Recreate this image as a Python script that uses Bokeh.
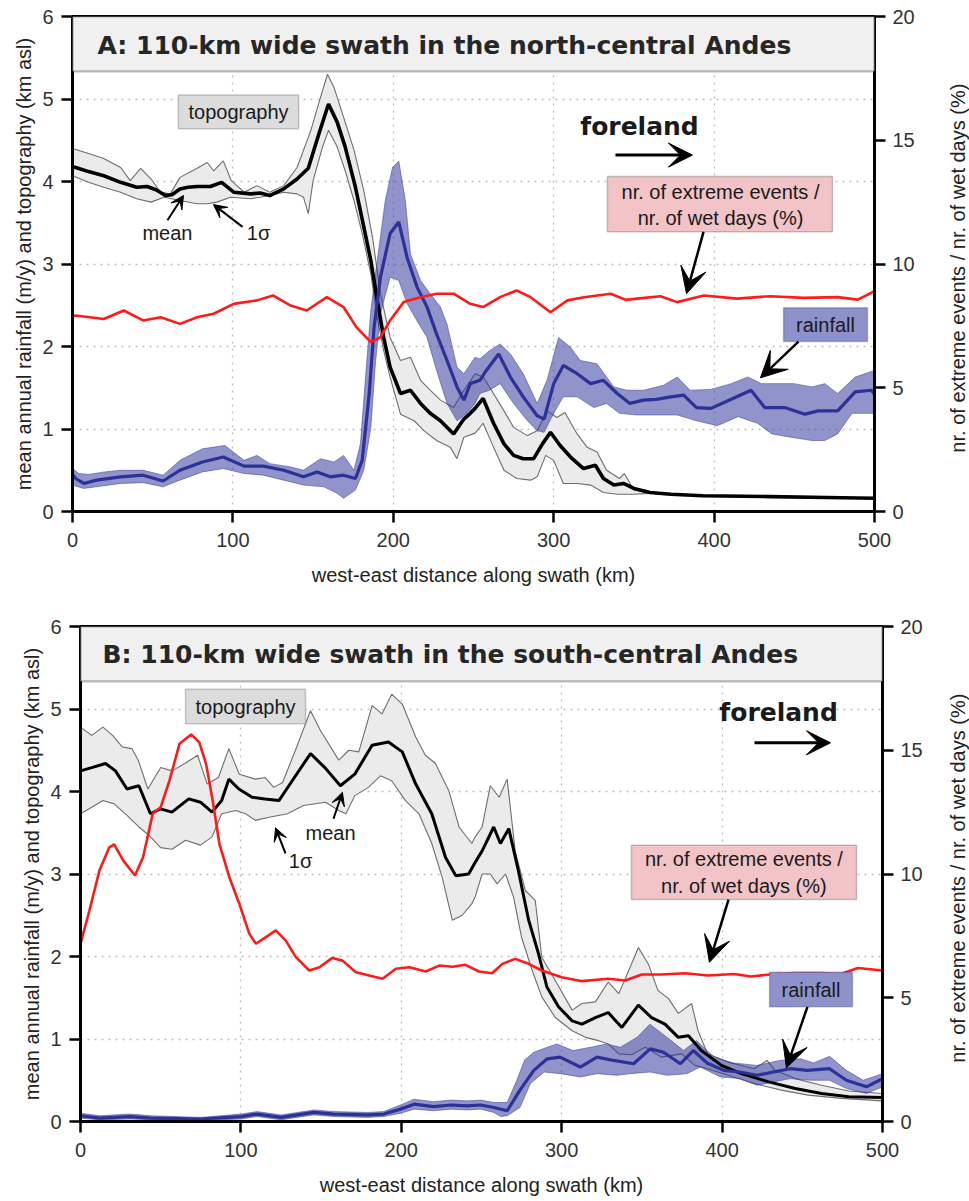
import math
from bokeh.plotting import figure
from bokeh.models import Range1d, LinearAxis, Arrow, VeeHead, Label, FixedTicker, BoxAnnotation
from bokeh.layouts import column, row
from bokeh.embed import file_html
from bokeh.resources import INLINE

# ---------------- Panel A data (north-central Andes) ----------------
A_topo_mean_x = [0, 2, 10, 19.5, 30, 40, 46.5, 52, 58, 62, 67, 72, 77.7, 86, 93, 100.5, 111, 117, 123, 131.7, 140, 147, 153, 159.6, 165, 170, 176.4, 181.6, 186, 190, 194, 198, 204.5, 210.7, 217, 223, 229.4, 237.6, 244, 248, 251, 256, 262.5, 269, 275, 281, 287.5, 293, 298, 304, 310.5, 318.6, 326, 331, 337.5, 343.5, 350, 360, 373, 393, 435, 470, 500]
A_topo_mean_y = [4.18, 4.17, 4.12, 4.07, 3.99, 3.93, 3.94, 3.90, 3.83, 3.84, 3.91, 3.93, 3.94, 3.94, 3.99, 3.87, 3.85, 3.86, 3.83, 3.91, 4.03, 4.16, 4.54, 4.94, 4.72, 4.42, 3.93, 3.45, 3.04, 2.56, 2.11, 1.75, 1.43, 1.47, 1.31, 1.19, 1.10, 0.94, 1.12, 1.19, 1.25, 1.37, 1.07, 0.82, 0.68, 0.64, 0.64, 0.82, 0.96, 0.80, 0.66, 0.52, 0.56, 0.40, 0.32, 0.34, 0.28, 0.23, 0.21, 0.19, 0.18, 0.17, 0.16]
A_topo_up_x = [0, 10, 19.5, 30, 36, 42.5, 49, 55, 61, 67, 77.7, 84, 88, 94, 99, 107, 115, 123, 131.7, 140, 148.6, 154.6, 159, 163, 169, 175.5, 181.6, 187, 192, 198, 204.5, 210.7, 217, 223, 229.4, 237.6, 244, 251, 256, 260, 269, 275, 283.6, 289.7, 296, 302, 307, 314.6, 320.8, 327, 333, 341, 344, 350, 360]
A_topo_up_y = [4.40, 4.34, 4.28, 4.17, 4.01, 4.16, 4.03, 3.87, 3.85, 4.05, 4.16, 4.23, 4.13, 4.25, 4.01, 3.87, 3.95, 3.87, 3.95, 4.17, 4.62, 5.02, 5.30, 5.14, 4.78, 4.38, 3.89, 3.33, 2.64, 2.11, 1.83, 1.87, 1.59, 1.47, 1.35, 1.26, 1.47, 1.67, 1.63, 1.51, 1.22, 1.02, 0.92, 0.98, 1.22, 1.14, 1.20, 0.94, 0.78, 0.72, 0.50, 0.40, 0.46, 0.26, 0.23]
A_topo_lo_x = [0, 10, 19.5, 30, 40, 49, 57, 67, 77.7, 84, 90, 98.5, 111, 123, 131.7, 140, 144, 147, 150, 155.6, 159.6, 165, 170, 175.5, 180.6, 186, 190, 194, 198, 204.5, 213, 219, 227, 235.5, 239.7, 244, 251, 256, 262.5, 269, 277, 285.6, 289.7, 295, 300, 306, 314.6, 323, 331, 339.6, 350, 360]
A_topo_lo_y = [4.07, 3.99, 3.93, 3.87, 3.79, 3.75, 3.81, 3.77, 3.73, 3.73, 3.75, 3.81, 3.79, 3.83, 3.87, 3.85, 3.81, 3.61, 4.01, 4.40, 4.62, 4.42, 4.13, 3.77, 3.37, 2.88, 2.35, 1.95, 1.63, 1.18, 1.10, 0.98, 0.86, 0.78, 0.64, 0.90, 0.95, 1.07, 0.78, 0.50, 0.40, 0.38, 0.42, 0.68, 0.62, 0.34, 0.34, 0.32, 0.23, 0.21, 0.21, 0.22]
A_rain_mean_x = [0, 2, 7, 15, 30, 44, 56.5, 67, 81, 94, 107, 119, 131.7, 144, 152.5, 160.7, 169, 176.4, 180.6, 185, 188, 192, 198, 203.4, 208.6, 214.8, 221, 227, 233.5, 239.7, 244, 248, 254, 258, 265.7, 273, 281, 289.7, 294, 300, 306, 314.6, 323, 331, 339.6, 347.5, 356, 364, 373, 381, 389, 398, 410.7, 423, 431.6, 444, 456.6, 465, 477, 488, 498, 500]
A_rain_mean_y = [0.45, 0.40, 0.34, 0.38, 0.42, 0.44, 0.37, 0.50, 0.60, 0.66, 0.55, 0.55, 0.50, 0.42, 0.48, 0.42, 0.44, 0.40, 0.62, 1.43, 2.23, 2.84, 3.37, 3.51, 3.08, 2.72, 2.48, 2.15, 1.83, 1.51, 1.35, 1.55, 1.59, 1.71, 1.91, 1.63, 1.39, 1.16, 1.12, 1.55, 1.77, 1.67, 1.55, 1.59, 1.43, 1.31, 1.35, 1.36, 1.39, 1.41, 1.26, 1.25, 1.36, 1.47, 1.26, 1.26, 1.18, 1.22, 1.22, 1.45, 1.47, 1.42]
A_rain_up_x = [0, 4, 10, 20, 30, 44, 56.5, 67, 81, 95, 107, 115, 123, 136, 144, 154.6, 163, 169, 175.5, 179.5, 182.7, 186, 190, 195, 199.5, 203.4, 207.5, 210.7, 217, 223, 229.4, 233.5, 239.7, 244, 251, 254, 260, 266.6, 273, 281, 289.7, 296, 303, 310.5, 316.6, 327, 337.5, 345.6, 356, 368.5, 377, 385, 398, 410.7, 421, 429.6, 440, 450, 461, 469, 477, 488, 500]
A_rain_up_y = [0.52, 0.46, 0.45, 0.48, 0.50, 0.50, 0.44, 0.62, 0.76, 0.80, 0.62, 0.68, 0.58, 0.54, 0.50, 0.64, 0.60, 0.68, 0.50, 0.82, 1.63, 2.44, 3.04, 3.77, 4.17, 4.25, 3.77, 3.12, 2.80, 2.64, 2.48, 2.27, 1.75, 1.67, 1.87, 1.85, 1.95, 2.03, 1.91, 1.67, 1.31, 1.60, 2.11, 1.99, 1.83, 1.79, 1.51, 1.47, 1.47, 1.53, 1.63, 1.47, 1.48, 1.55, 1.63, 1.55, 1.55, 1.55, 1.51, 1.55, 1.43, 1.63, 1.71]
A_rain_lo_x = [0, 7, 15, 30, 44, 56.5, 67, 81, 94, 107, 119, 131.7, 144, 156.7, 165, 169, 176.4, 181.6, 186, 189, 192, 198, 203.4, 208.6, 214.8, 221, 227, 233.5, 239.7, 246, 251, 254, 260, 266.6, 275, 283.6, 289.7, 294, 300, 306, 314.6, 325, 333, 341, 352, 364, 377, 389, 402, 415, 427, 436, 448, 461, 469, 477, 486, 500]
A_rain_lo_y = [0.32, 0.28, 0.30, 0.34, 0.35, 0.30, 0.38, 0.48, 0.52, 0.46, 0.44, 0.38, 0.32, 0.30, 0.22, 0.16, 0.26, 0.50, 1.02, 1.83, 2.40, 2.84, 2.80, 2.52, 2.31, 2.11, 1.71, 1.31, 1.10, 1.19, 1.31, 1.43, 1.47, 1.55, 1.31, 1.10, 0.98, 0.96, 1.19, 1.39, 1.39, 1.26, 1.31, 1.19, 1.17, 1.17, 1.17, 1.10, 1.04, 1.15, 1.07, 0.94, 0.90, 0.86, 0.86, 0.94, 1.19, 1.19]
A_ratio_x = [0, 2, 19.5, 32, 44, 55, 67, 77.7, 88, 100.5, 115, 125, 136, 146, 158.6, 169, 177, 186, 192, 198, 206.5, 217, 227, 237.6, 248, 256, 266.6, 277, 285.6, 298, 308.6, 319, 335.6, 345, 352, 366.6, 377, 393.6, 414.4, 435, 456, 477, 489.6, 500]
A_ratio_y = [7.90, 7.92, 7.78, 8.12, 7.72, 7.85, 7.58, 7.85, 7.99, 8.39, 8.53, 8.73, 8.32, 8.12, 8.66, 8.26, 7.45, 6.84, 7.04, 7.72, 8.46, 8.66, 8.80, 8.80, 8.39, 8.26, 8.66, 8.93, 8.66, 8.05, 8.53, 8.66, 8.80, 8.55, 8.60, 8.70, 8.46, 8.73, 8.60, 8.70, 8.63, 8.66, 8.56, 8.90]

# ---------------- Panel B data (south-central Andes) ----------------
B_topo_mean_x = [0, 7, 15.6, 21.8, 29, 36.4, 43.6, 49.9, 57, 67.5, 74.8, 82, 88, 92.5, 98.7, 107, 115, 123.7, 132, 143.4, 152.8, 162, 171, 181.8, 192, 200.6, 209, 219, 227.6, 234, 242, 246, 250.4, 257.6, 261.8, 267, 273, 279.4, 285.6, 290.8, 298, 306.5, 312.6, 321, 329, 337.5, 347.8, 356, 364.4, 372.7, 379, 387, 399.6, 412, 429, 445.6, 462, 479, 500]
B_topo_mean_y = [4.25, 4.29, 4.34, 4.25, 4.03, 4.07, 3.73, 3.79, 3.75, 3.91, 3.87, 3.75, 3.89, 4.15, 4.03, 3.93, 3.91, 3.89, 4.13, 4.46, 4.28, 4.07, 4.21, 4.56, 4.60, 4.48, 4.09, 3.73, 3.20, 2.98, 3.00, 3.14, 3.28, 3.57, 3.37, 3.55, 3.04, 2.44, 2.03, 1.63, 1.39, 1.22, 1.18, 1.26, 1.32, 1.14, 1.41, 1.26, 1.18, 1.02, 1.04, 0.86, 0.68, 0.58, 0.48, 0.40, 0.34, 0.30, 0.29]
B_topo_up_x = [0, 7, 14, 20, 26, 32, 36, 42, 50, 57, 65, 73, 79, 86, 92.5, 99, 109, 115, 120.5, 126, 134, 143.4, 149.6, 161, 167.3, 173.5, 181.8, 188, 194, 200.6, 209, 215, 221.3, 229.6, 236, 244, 246, 250.4, 255.5, 261, 266, 271, 277.3, 283.5, 287.6, 296, 306.5, 312.6, 321, 329, 335.6, 341.8, 347.8, 354, 360, 366.6, 372.7, 381, 385, 391, 403.7, 420, 428, 433, 445.6, 462, 479, 500]
B_topo_up_y = [4.78, 4.68, 4.78, 4.68, 4.54, 4.52, 4.38, 4.03, 4.29, 4.25, 4.34, 4.44, 4.09, 4.17, 4.52, 4.21, 4.15, 4.17, 4.05, 4.11, 4.50, 4.98, 4.74, 4.38, 4.50, 4.48, 5.04, 4.94, 5.18, 5.06, 4.66, 4.44, 4.34, 4.01, 3.57, 3.37, 3.45, 3.57, 4.07, 3.93, 4.15, 3.28, 2.80, 2.68, 1.99, 1.71, 1.35, 1.43, 1.45, 1.69, 1.55, 1.83, 2.11, 1.91, 1.59, 1.49, 1.31, 1.43, 1.10, 0.82, 0.72, 0.64, 0.74, 0.62, 0.52, 0.44, 0.37, 0.34]
B_topo_lo_x = [0, 7, 14, 21, 29, 36.4, 42.6, 49.9, 57, 65.5, 74.8, 82, 88, 96.8, 103, 109, 118.4, 129, 139, 152.8, 161, 165.5, 171, 179.5, 187, 194, 202.6, 211, 219, 225.5, 231.8, 238, 244, 246, 250.4, 255.5, 259.7, 265, 270, 275, 281.6, 287.6, 296, 306.5, 314.8, 323, 329, 335.6, 343.7, 352, 362, 374.8, 383, 391, 403.7, 420, 437, 453.6, 474.4, 500]
B_topo_lo_y = [3.73, 3.81, 3.89, 3.85, 3.71, 3.57, 3.47, 3.32, 3.30, 3.41, 3.35, 3.45, 3.73, 3.77, 3.73, 3.65, 3.69, 3.73, 3.83, 3.87, 3.77, 3.73, 3.95, 4.05, 4.19, 4.13, 3.89, 3.73, 3.37, 2.96, 2.44, 2.50, 2.64, 2.72, 3.00, 3.00, 2.88, 3.00, 2.72, 2.23, 1.83, 1.51, 1.26, 1.10, 1.02, 0.98, 0.94, 0.82, 0.81, 0.90, 0.78, 0.82, 0.68, 0.64, 0.56, 0.46, 0.38, 0.32, 0.28, 0.25]
B_rain_mean_x = [0, 12, 31, 43.6, 75, 100, 110, 125, 145.5, 158, 178.8, 189, 199.5, 208, 220, 231, 241, 249.5, 257.7, 266, 274, 282.6, 291, 299, 311.6, 322, 332.4, 344.8, 355.2, 363.5, 374, 382, 390.6, 401, 411, 421.7, 432, 442.5, 453, 467, 477.5, 490, 500]
B_rain_mean_y = [0.07, 0.04, 0.06, 0.04, 0.03, 0.06, 0.09, 0.05, 0.11, 0.09, 0.08, 0.09, 0.15, 0.21, 0.18, 0.20, 0.19, 0.20, 0.17, 0.13, 0.38, 0.62, 0.76, 0.78, 0.66, 0.78, 0.74, 0.70, 0.88, 0.84, 0.70, 0.86, 0.71, 0.62, 0.60, 0.56, 0.60, 0.64, 0.62, 0.64, 0.50, 0.42, 0.52]
B_rain_up_x = [0, 12, 31, 43.6, 75, 100, 110, 125, 145.5, 158, 178.8, 189, 199.5, 208, 220, 231, 241, 249.5, 257.7, 266, 272, 277, 282.6, 291, 297, 307, 318, 328, 336.6, 347, 355, 365.6, 376, 384, 395, 407, 421.7, 436, 449, 457, 467, 477.5, 488, 500]
B_rain_up_y = [0.10, 0.07, 0.09, 0.07, 0.05, 0.09, 0.12, 0.08, 0.14, 0.12, 0.11, 0.12, 0.20, 0.27, 0.24, 0.26, 0.25, 0.26, 0.23, 0.23, 0.50, 0.75, 0.84, 0.90, 0.94, 0.86, 0.90, 0.94, 0.90, 1.02, 1.18, 1.02, 0.86, 0.98, 0.78, 0.71, 0.68, 0.74, 0.76, 0.71, 0.79, 0.62, 0.50, 0.58]
B_rain_lo_x = [0, 12, 31, 43.6, 75, 100, 110, 125, 145.5, 158, 178.8, 189, 199.5, 208, 220, 231, 241, 249.5, 257.7, 262, 266, 274, 280.5, 289, 299, 311.6, 322, 334.5, 342.8, 355.2, 365.6, 378, 386.4, 399, 411, 421.7, 432, 442.5, 455, 467, 477.5, 490, 500]
B_rain_lo_y = [0.04, 0.02, 0.03, 0.02, 0.01, 0.03, 0.06, 0.02, 0.08, 0.06, 0.05, 0.06, 0.10, 0.15, 0.13, 0.15, 0.14, 0.15, 0.11, 0.06, 0.07, 0.17, 0.46, 0.60, 0.58, 0.54, 0.58, 0.56, 0.58, 0.60, 0.56, 0.58, 0.66, 0.54, 0.52, 0.44, 0.48, 0.52, 0.50, 0.50, 0.40, 0.34, 0.42]
B_ratio_x = [0, 5.6, 11.8, 18, 21, 26.6, 34, 39, 45, 50, 55.5, 61.7, 69, 74, 78.3, 82.4, 86.6, 92.8, 99, 105.3, 109.4, 115.6, 121.8, 128, 134.3, 142.6, 149, 157, 163.4, 171.7, 180, 188.3, 196.6, 205, 215.3, 223.6, 232, 240, 248.5, 256.6, 263, 271, 279.4, 287.6, 300, 312.6, 329, 339.6, 350, 362, 377, 391, 407.6, 418, 432.5, 445, 462, 474, 484.6, 500]
B_ratio_y = [7.18, 8.53, 10.14, 11.08, 11.20, 10.55, 9.94, 10.68, 12.43, 12.70, 13.78, 15.26, 15.64, 15.33, 14.45, 12.97, 11.22, 9.87, 8.80, 7.58, 7.18, 7.45, 7.72, 7.31, 6.64, 6.10, 6.23, 6.61, 6.50, 6.03, 5.90, 5.77, 6.17, 6.23, 6.06, 6.30, 6.25, 6.33, 6.06, 5.99, 6.37, 6.57, 6.37, 6.10, 5.83, 5.67, 5.77, 5.70, 5.94, 5.94, 5.99, 5.90, 5.96, 5.86, 5.96, 6.00, 6.00, 5.96, 6.20, 6.10]

x_ticks = [0, 100, 200, 300, 400, 500]
y_ticks = [0, 1, 2, 3, 4, 5, 6]
r_ticks = [0, 5, 10, 15, 20]

titles = ["A: 110-km wide swath in the north-central Andes",
          "B: 110-km wide swath in the south-central Andes"]
x_label = "west-east distance along swath (km)"
y_label = "mean annual rainfall (m/y) and topography (km asl)"
r_label = "nr. of extreme events / nr. of wet days (%)"

FONT = "Liberation Sans"
TOPO_FILL = "#ebebeb"
RAIN_FILL = "#2a3299"
RAIN_LINE = "#2b3196"
RED = "#ff1a1a"


def make_label(x, y, text, size="20px", bold=False, font=FONT, align="center", color="#1a1a1a", angle=0.0):
    return Label(x=x, y=y, text=text, text_font=font, text_font_size=size,
                 text_font_style="bold" if bold else "normal", text_align=align,
                 text_baseline="middle", text_color=color, angle=angle)


def label(p, *args, **kw):
    p.add_layout(make_label(*args, **kw))


def box(p, l, r, b, t, fill, line):
    p.add_layout(BoxAnnotation(left=l, right=r, bottom=b, top=t, fill_color=fill, fill_alpha=1.0,
                               line_color=line, line_width=1.5, level="annotation"))


def arrow(p, xs, ys, xe, ye, size=20, lw=2.5):
    p.add_layout(Arrow(end=VeeHead(size=size, fill_color="black", line_color="black", line_width=1),
                       x_start=xs, y_start=ys, x_end=xe, y_end=ye, line_width=lw, line_color="black"))


def style_axis(ax):
    ax.axis_line_color = "black"
    ax.axis_line_width = 3
    ax.major_tick_line_color = "black"
    ax.major_tick_line_width = 2.5
    ax.major_tick_out = 11
    ax.major_tick_in = 0
    ax.minor_tick_line_color = None
    ax.major_label_text_font = FONT
    ax.major_label_text_font_size = "20px"
    ax.major_label_text_color = "#333333"
    ax.axis_label_text_font = FONT
    ax.axis_label_text_font_size = "20px"
    ax.axis_label_text_font_style = "normal"
    ax.axis_label_text_color = "#222222"


def make_panel(h, borders, title, tx, ty, d, ann, rlab_x, mean_w):
    bl, br, bt, bb = borders
    p = figure(width=969, height=h, x_range=Range1d(0, 500), y_range=Range1d(0, 6),
               output_backend="svg", toolbar_location=None,
               min_border_left=bl, min_border_right=br, min_border_top=bt, min_border_bottom=bb)
    p.extra_y_ranges = {"ratio": Range1d(0, 20)}
    p.outline_line_color = "black"
    p.outline_line_width = 3
    p.background_fill_color = "white"
    p.border_fill_color = "white"

    for g in (p.xgrid, p.ygrid):
        g.grid_line_color = "#bdbdbd"
        g.grid_line_dash = "2 5"
        g.grid_line_width = 1.3
    p.xgrid.ticker = FixedTicker(ticks=x_ticks)
    p.ygrid.ticker = FixedTicker(ticks=y_ticks)

    lax = p.left[0]
    bax = p.below[0]
    lax.ticker = FixedTicker(ticks=y_ticks)
    bax.ticker = FixedTicker(ticks=x_ticks)
    lax.axis_label = y_label
    bax.axis_label = x_label
    rax = LinearAxis(y_range_name="ratio", ticker=FixedTicker(ticks=r_ticks))
    for ax in (lax, bax, rax):
        style_axis(ax)
    lax.major_label_standoff = 8
    lax.axis_label_standoff = 4
    bax.major_label_standoff = 10
    bax.axis_label_standoff = 14
    rax.major_label_standoff = 7
    p.add_layout(rax, "right")
    # right-hand axis title (reads bottom to top), held in the right side panel so it is not clipped
    p.add_layout(make_label(rlab_x, 2.95, r_label, angle=math.pi / 2, color="#222222"), "right")

    (tmx, tmy, tux, tuy, tlx, tly, rmx, rmy, rux, ruy, rlx, rly, qx, qy) = d
    # topography band and lines
    p.patch(tux + tlx[::-1], tuy + tly[::-1], fill_color=TOPO_FILL, line_color=None)
    p.line(tux, tuy, line_color="#6e6e6e", line_width=1.1)
    p.line(tlx, tly, line_color="#6e6e6e", line_width=1.1)
    # rainfall band
    p.patch(rux + rlx[::-1], ruy + rly[::-1], fill_color=RAIN_FILL, fill_alpha=0.52,
            line_color="#3a40a0", line_alpha=0.6, line_width=0.9)
    p.line(tmx, tmy, line_color="black", line_width=mean_w)
    p.line(rmx, rmy, line_color=RAIN_LINE, line_width=3.2)
    p.line(qx, qy, line_color=RED, line_width=2.6, y_range_name="ratio")

    # title strip
    p.add_layout(BoxAnnotation(bottom=5.335, top=6, fill_color="#f0f0f0", fill_alpha=1.0,
                               line_color="#1a1a1a", line_width=2.2, level="annotation"))
    label(p, tx, ty, title, size="25px", bold=True, font="DejaVu Sans", align="left", color="#262626")

    # annotations
    (topo_box, mean_t, mean_a, sig_t, sig_a, fore_t, fore_a, pink_box, pink_t1, pink_t2, pink_a,
     rain_box, rain_a) = ann
    box(p, *topo_box, "#dcdcdc", "#555555")
    label(p, (topo_box[0] + topo_box[1]) / 2, (topo_box[2] + topo_box[3]) / 2, "topography")
    label(p, mean_t[0], mean_t[1], "mean")
    arrow(p, *mean_a, size=13, lw=2)
    label(p, sig_t[0], sig_t[1], "1σ")
    arrow(p, *sig_a, size=13, lw=2)
    label(p, fore_t[0], fore_t[1], "foreland", size="25px", bold=True, font="DejaVu Sans", color="#1a1a1a")
    arrow(p, *fore_a, size=24, lw=3)
    box(p, *pink_box, "#f2c3c7", "#444444")
    label(p, pink_t1[0], pink_t1[1], "nr. of extreme events /")
    label(p, pink_t2[0], pink_t2[1], "nr. of wet days (%)")
    arrow(p, *pink_a, size=26, lw=2.5)
    box(p, *rain_box, "#8e92cb", "#2a2f6e")
    label(p, (rain_box[0] + rain_box[1]) / 2, (rain_box[2] + rain_box[3]) / 2, "rainfall")
    arrow(p, *rain_a, size=26, lw=2.5)
    return p


dA = (A_topo_mean_x, A_topo_mean_y, A_topo_up_x, A_topo_up_y, A_topo_lo_x, A_topo_lo_y,
      A_rain_mean_x, A_rain_mean_y, A_rain_up_x, A_rain_up_y, A_rain_lo_x, A_rain_lo_y,
      A_ratio_x, A_ratio_y)
dB = (B_topo_mean_x, B_topo_mean_y, B_topo_up_x, B_topo_up_y, B_topo_lo_x, B_topo_lo_y,
      B_rain_mean_x, B_rain_mean_y, B_rain_up_x, B_rain_up_y, B_rain_lo_x, B_rain_lo_y,
      B_ratio_x, B_ratio_y)

annA = ((66, 141, 4.64, 5.05),
        (59.2, 3.37), (59.2, 3.53, 69.2, 3.83),
        (116, 3.37), (106, 3.45, 87.9, 3.72),
        (353.5, 4.67), (338.5, 4.32, 386.5, 4.32),
        (333.5, 473.8, 3.39, 4.06), (404, 3.87), (404, 3.56), (393.4, 3.39, 382.8, 2.64),
        (443.3, 495.6, 2.06, 2.47), (452.6, 2.06, 428.9, 1.62))
annB = ((65.5, 140.3, 4.82, 5.24),
        (155.9, 3.50), (157.7, 3.67, 163.3, 3.99),
        (137.2, 3.16), (127.8, 3.25, 121.6, 3.56),
        (435.2, 4.96), (420.2, 4.59, 467.6, 4.59),
        (343.5, 483.8, 2.69, 3.35), (413.6, 3.18), (413.6, 2.86), (404, 2.69, 392.1, 1.93),
        (429.6, 481.3, 1.39, 1.81), (453.2, 1.39, 440.1, 0.65))

pA = make_panel(600, (72, 95, 16, 89), titles[0], 15.6, 5.65, dA, annA, 552.0, 3.6)
pB = make_panel(601, (80, 87, 26, 80), titles[1], 13.7, 5.66, dB, annB, 546.8, 3.0)

layout = column(row(pA), row(pB))
open("out.html", "w").write(file_html(layout, INLINE))
